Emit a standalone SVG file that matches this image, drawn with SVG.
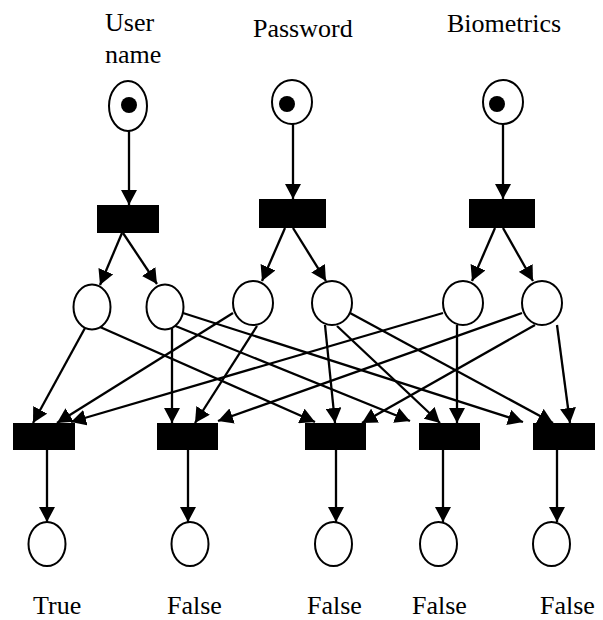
<svg xmlns="http://www.w3.org/2000/svg" width="603" height="620" viewBox="0 0 603 620">
<style>
.pl{fill:#fff;stroke:#000;stroke-width:2}
.tk{fill:#000}
.tr{fill:#000}
.lb{font-family:"Liberation Serif","Times New Roman",serif;font-size:26px;fill:#000}
.ar{stroke:#000;stroke-width:2.3;fill:none;marker-end:url(#ah)}
</style>
<defs>
<marker id="ah" markerUnits="userSpaceOnUse" markerWidth="16" markerHeight="16" refX="15" refY="8" orient="auto">
<path d="M0,0 L15,8 L0,16 z" fill="#000"/>
</marker>
</defs>
<rect width="603" height="620" fill="#fff"/>
<g id="labels">
<text class="lb" x="105" y="31">User</text>
<text class="lb" x="105" y="63">name</text>
<text class="lb" x="253" y="37">Password</text>
<text class="lb" x="447" y="32">Biometrics</text>
<text class="lb" x="33" y="614">True</text>
<text class="lb" x="167" y="614">False</text>
<text class="lb" x="307" y="614">False</text>
<text class="lb" x="412" y="614">False</text>
<text class="lb" x="540" y="614">False</text>
</g>
<g id="connectors">
<line class="ar" x1="129" y1="131" x2="129" y2="205"/>
<line class="ar" x1="293" y1="124" x2="293" y2="199"/>
<line class="ar" x1="503" y1="124" x2="503" y2="199"/>
<line class="ar" x1="122" y1="233" x2="100" y2="285"/>
<line class="ar" x1="123" y1="233" x2="157" y2="284"/>
<line class="ar" x1="285" y1="228" x2="262" y2="281"/>
<line class="ar" x1="293" y1="228" x2="326" y2="281"/>
<line class="ar" x1="495" y1="228" x2="472" y2="281"/>
<line class="ar" x1="503" y1="228" x2="533" y2="281"/>
<line class="ar" x1="85" y1="328" x2="33" y2="423"/>
<line class="ar" x1="100" y1="327" x2="315" y2="422"/>
<line class="ar" x1="172" y1="326" x2="172" y2="423"/>
<line class="ar" x1="173" y1="325" x2="410" y2="421"/>
<line class="ar" x1="183" y1="313" x2="523" y2="422"/>
<line class="ar" x1="233" y1="313" x2="57" y2="423"/>
<line class="ar" x1="257" y1="326" x2="195" y2="423"/>
<line class="ar" x1="325" y1="325" x2="335" y2="423"/>
<line class="ar" x1="337" y1="326" x2="440" y2="423"/>
<line class="ar" x1="350" y1="313" x2="553" y2="423"/>
<line class="ar" x1="443" y1="313" x2="71" y2="422"/>
<line class="ar" x1="457" y1="325" x2="457" y2="423"/>
<line class="ar" x1="522" y1="313" x2="218" y2="421"/>
<line class="ar" x1="535" y1="325" x2="362" y2="423"/>
<line class="ar" x1="557" y1="325" x2="570" y2="423"/>
<line class="ar" x1="47" y1="450" x2="47" y2="522"/>
<line class="ar" x1="188" y1="450" x2="188" y2="522"/>
<line class="ar" x1="336" y1="450" x2="336" y2="522"/>
<line class="ar" x1="443" y1="450" x2="443" y2="522"/>
<line class="ar" x1="557" y1="450" x2="557" y2="522"/>
</g>
<g id="p-user"><ellipse class="pl" cx="128" cy="106" rx="19" ry="25"/><circle class="tk" cx="129" cy="105" r="8"/></g>
<g id="p-password"><ellipse class="pl" cx="292" cy="102" rx="20" ry="22"/><circle class="tk" cx="287" cy="104" r="8"/></g>
<g id="p-bio"><ellipse class="pl" cx="503" cy="102" rx="20" ry="22"/><circle class="tk" cx="497" cy="104" r="8"/></g>
<g id="t-user"><rect class="tr" x="97" y="205" width="62" height="28"/></g>
<g id="t-password"><rect class="tr" x="259" y="199" width="67" height="29"/></g>
<g id="t-bio"><rect class="tr" x="469" y="199" width="66" height="29"/></g>
<g id="p1"><ellipse class="pl" cx="92" cy="307" rx="18.5" ry="22.5"/></g>
<g id="p2"><ellipse class="pl" cx="165" cy="307" rx="18.5" ry="22.5"/></g>
<g id="p3"><ellipse class="pl" cx="253" cy="303" rx="20" ry="22"/></g>
<g id="p4"><ellipse class="pl" cx="332" cy="303" rx="20" ry="22"/></g>
<g id="p5"><ellipse class="pl" cx="463" cy="303" rx="20" ry="22"/></g>
<g id="p6"><ellipse class="pl" cx="542" cy="303" rx="20" ry="22"/></g>
<g id="t1"><rect class="tr" x="13" y="423" width="62" height="27"/></g>
<g id="t2"><rect class="tr" x="157" y="423" width="61" height="27"/></g>
<g id="t3"><rect class="tr" x="305" y="423" width="61" height="27"/></g>
<g id="t4"><rect class="tr" x="419" y="423" width="61" height="27"/></g>
<g id="t5"><rect class="tr" x="533" y="423" width="62" height="27"/></g>
<g id="o1"><ellipse class="pl" cx="47" cy="544" rx="18.5" ry="22"/></g>
<g id="o2"><ellipse class="pl" cx="190" cy="544" rx="18.5" ry="22"/></g>
<g id="o3"><ellipse class="pl" cx="333.5" cy="544" rx="18.5" ry="22"/></g>
<g id="o4"><ellipse class="pl" cx="438.5" cy="544" rx="18.5" ry="22"/></g>
<g id="o5"><ellipse class="pl" cx="551.5" cy="544" rx="18.5" ry="22"/></g>
</svg>
